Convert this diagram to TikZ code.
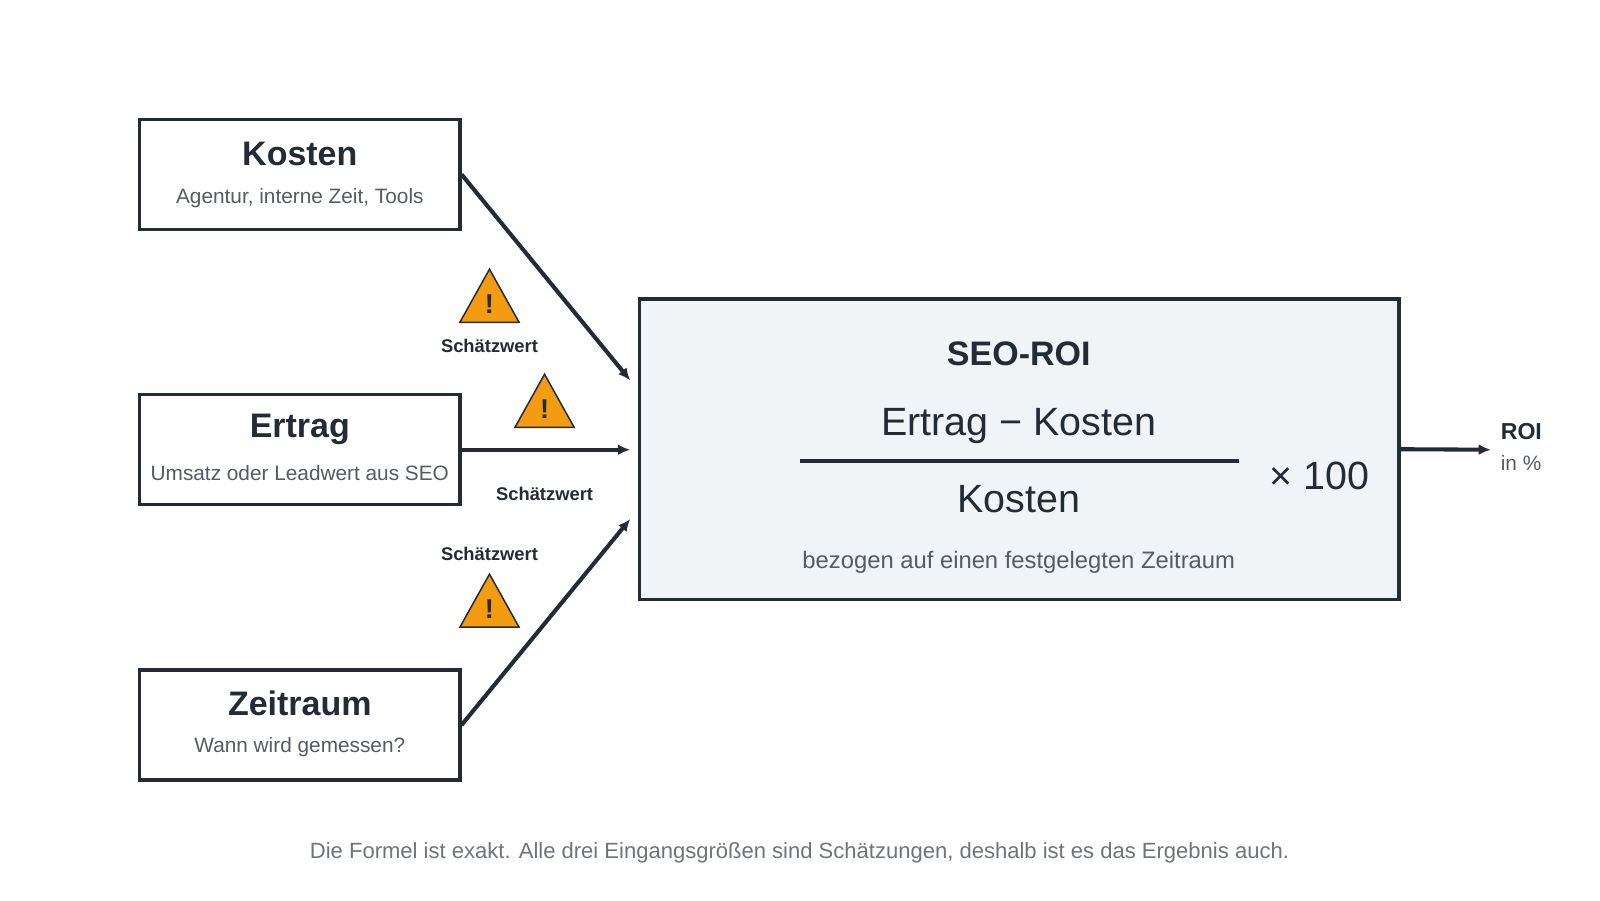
\documentclass[tikz,border=0pt]{standalone}
\usepackage{fontspec}
\setmainfont{Liberation Sans}
\usetikzlibrary{arrows.meta}
\begin{document}
\definecolor{dk}{HTML}{232B36}
\definecolor{gt}{HTML}{555B63}
\definecolor{bx}{HTML}{F1F4F6}
\definecolor{warn}{HTML}{F39C12}
\begin{tikzpicture}[x=0.75pt,y=-0.75pt,
  box/.style={draw=dk,line width=2.4pt,minimum width=314*0.75pt,minimum height=108*0.75pt,inner sep=0pt},
  arr/.style={draw=dk,line width=3pt,-{Latex[length=9pt,width=8pt]}},
  ttl/.style={font=\fontsize{25}{28}\selectfont\bfseries,text=dk},
  sub/.style={font=\fontsize{15.3}{18}\selectfont,text=gt},
  est/.style={font=\fontsize{13.5}{16}\selectfont\bfseries,text=dk},
  tri/.style={draw=dk,line width=1.1pt,fill=warn}]
\useasboundingbox (0,0) rectangle (1569,882.6);
% input boxes
\node[box] (k) at (294,171) {};
\node[ttl] (kt) at (294,151) {Kosten};
\node[sub] (ks) at (294,194) {Agentur, interne Zeit, Tools};
\node[box] (e) at (294,441) {};
\node[ttl] (et) at (294,421) {Ertrag};
\node[sub] (es) at (294,464) {Umsatz oder Leadwert aus SEO};
\node[box] (z) at (294,711) {};
\node[ttl] (zt) at (294,690) {Zeitraum};
\node[sub] (zs) at (294,733) {Wann wird gemessen?};
% main box
\node[draw=dk,fill=bx,line width=2.6pt,minimum width=745*0.75pt,minimum height=295*0.75pt,inner sep=0pt] (m) at (999.5,440.5) {};
\node[ttl] (mt) at (999,347) {SEO-ROI};
\node[font=\fontsize{29}{32}\selectfont,text=dk] (num) at (999,418) {Ertrag − Kosten};
\node[font=\fontsize{29}{32}\selectfont,text=dk] (den) at (999,489) {Kosten};
\coordinate (fl) at (784,452); \coordinate (fr) at (1215,452);
\draw[dk,line width=2.6pt] (fl) -- (fr);
\node[font=\fontsize{29}{32}\selectfont,text=dk] (x100) at (1294,467) {× 100};
\node[font=\fontsize{17.5}{20}\selectfont,text=gt] (bz) at (999,551) {bezogen auf einen festgelegten Zeitraum};
% arrows
\coordinate (a1) at (618,373); \coordinate (a2) at (618,441); \coordinate (a3) at (618,509);
\draw[arr] (k.east) -- (a1);
\draw[arr] (e.east) -- (a2);
\draw[arr] (z.east) -- (a3);
\coordinate (ro) at (1462,441);
\draw[arr] (m.east) -- (ro);
\node[font=\fontsize{17}{20}\selectfont\bfseries,text=dk,anchor=west] (roi) at (1467,423) {ROI};
\node[sub,anchor=west] (pct) at (1467,454) {in \%};
% warnings
\foreach \n/\cx/\cy in {w1/480/290, w2/534/393, w3/480/589}{
  \draw[tri] (\cx-29,\cy+26) -- (\cx,\cy-26) -- (\cx+29,\cy+26) -- cycle;
  \node[font=\fontsize{20}{22}\selectfont\bfseries,text=dk] (\n) at (\cx,\cy+8) {!};
}
\node[est] (s1) at (480,339) {Schätzwert};
\node[est] (s2) at (534,484) {Schätzwert};
\node[est] (s3) at (480,543) {Schätzwert};
\node[font=\fontsize{16.2}{19}\selectfont,text=gt!85] (ft) at (784,836) {Die Formel ist exakt. Alle drei Eingangsgrößen sind Schätzungen, deshalb ist es das Ergebnis auch.};
\end{tikzpicture}
\end{document}
